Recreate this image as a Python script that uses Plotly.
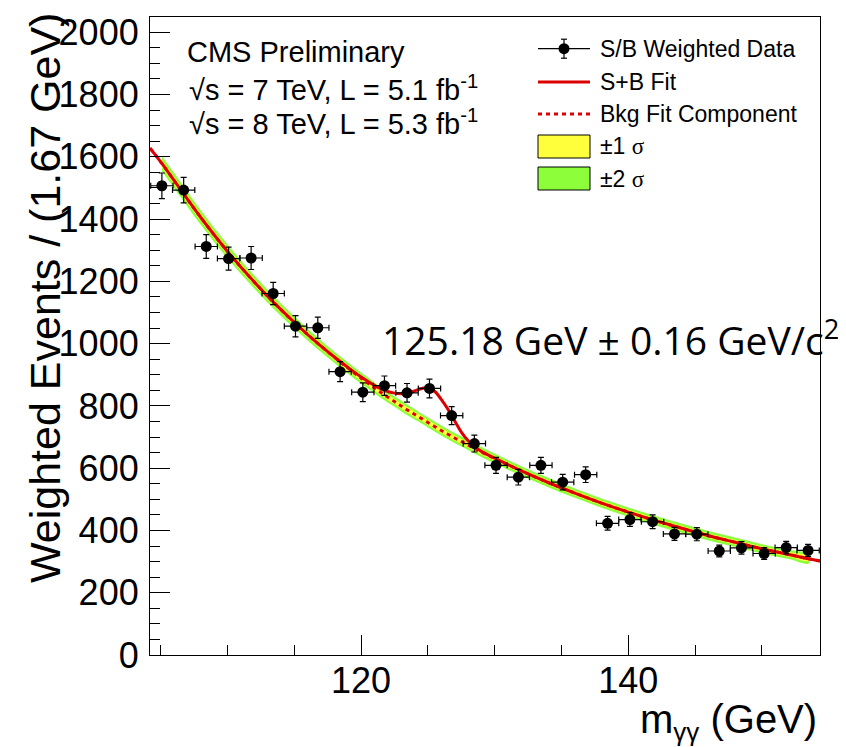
import plotly.graph_objects as go

# ---------------- data ----------------
mass = [105.09, 106.72, 108.41, 110.08, 111.77, 113.42, 115.09, 116.76, 118.43, 120.13,
        121.75, 123.44, 125.12, 126.78, 128.48, 130.10, 131.77, 133.46, 135.09, 136.81,
        138.45, 140.12, 141.82, 143.46, 145.13, 146.81, 148.47, 150.17, 151.82, 153.46]
events = [1507, 1493, 1312, 1273, 1275, 1161, 1056, 1051, 910, 844,
          865, 842, 856, 769, 679, 609, 571, 609, 555, 579,
          423, 435, 428, 389, 388, 334, 344, 326, 345, 336]
events_err = [41, 41, 38, 37, 37, 36, 34, 34, 32, 30,
              31, 30, 30, 29, 27, 26, 25, 26, 25, 25,
              22, 22, 22, 21, 21, 19, 20, 19, 20, 19]
half_bin = 0.835

fit_x = [104.2, 105.1, 106, 108, 110, 112, 114, 116, 118, 119, 120, 121, 121.75, 122.5,
         123, 123.5, 124, 124.5, 125, 125.5, 126, 126.5, 127, 127.5, 128, 128.5, 129, 130,
         132, 134, 136, 138, 140, 142, 144, 146, 148, 150, 152, 153.5, 154.35]
fit_bkg = [1628, 1578, 1524, 1405, 1296, 1198, 1109, 1029, 956, 922, 889, 858, 835, 814,
           800, 786, 773, 760, 747, 734, 721, 709, 697, 686, 674, 663, 652, 631,
           591, 554, 520, 488, 459, 432, 407, 383, 362, 341, 323, 309, 302]
fit_sb = [1628, 1578, 1524, 1405, 1296, 1198, 1109, 1029, 957, 924, 893, 866, 850, 841,
          839, 841, 848, 855, 859, 847, 821, 789, 752, 716, 689, 669, 654, 632,
          591, 554, 520, 488, 459, 432, 407, 383, 362, 341, 323, 309, 302]
band_sigma = [12, 12, 12, 11.5, 11, 10.5, 10, 9.5, 9, 9, 9, 8.5, 8.5, 8.5,
              8.5, 8.5, 8.5, 8, 8, 8, 8, 8, 8, 8, 8, 8, 8, 8,
              7.5, 7.5, 7.5, 7.5, 7.5, 7.5, 7.5, 7.5, 7.5, 7.5, 7.5, 7.5, 7.5]

legend_labels = ["S/B Weighted Data", "S+B Fit", "Bkg Fit Component", "±1 ", "±2 "]

# ---------------- style ----------------
RED = "#DD0000"
GREEN = "#8CFF3A"
YELLOW = "#FFFF3C"
FONT = "Liberation Sans"

W, H = 846, 747
L, R, T, B = 142, 34, 9, 100
PW, PH = W - L - R, H - T - B


def px(x):
    return (x - L) / PW


def py(y):
    return (H - B - y) / PH


# band (only between first and last bin centres)
bx = fit_x[1:-1]
bb = fit_bkg[1:-1]
bs = band_sigma[1:-1]
up2 = [b + 2 * s for b, s in zip(bb, bs)]
lo2 = [b - 2 * s for b, s in zip(bb, bs)]
up1 = [b + s for b, s in zip(bb, bs)]
lo1 = [b - s for b, s in zip(bb, bs)]

fig = go.Figure()
fig.add_trace(go.Scatter(x=bx + bx[::-1], y=up2 + lo2[::-1], fill="toself", fillcolor=GREEN,
                         mode="lines", line=dict(width=0, shape="spline"), name="±2 σ",
                         showlegend=False, hoverinfo="skip"))
fig.add_trace(go.Scatter(x=bx + bx[::-1], y=up1 + lo1[::-1], fill="toself", fillcolor=YELLOW,
                         mode="lines", line=dict(width=0, shape="spline"), name="±1 σ",
                         showlegend=False, hoverinfo="skip"))
fig.add_trace(go.Scatter(x=fit_x, y=fit_bkg, mode="lines", name="Bkg Fit Component",
                         line=dict(color=RED, width=3, dash="4px,4px", shape="spline"),
                         showlegend=False))
fig.add_trace(go.Scatter(x=fit_x, y=fit_sb, mode="lines", name="S+B Fit",
                         line=dict(color=RED, width=3, shape="spline"), showlegend=False))
fig.add_trace(go.Scatter(x=mass, y=events, mode="markers", name="S/B Weighted Data",
                         marker=dict(color="black", size=11),
                         error_y=dict(type="data", array=events_err, color="black",
                                      thickness=1.2, width=3),
                         error_x=dict(type="constant", value=half_bin, color="black",
                                      thickness=1.2, width=3),
                         showlegend=False))

# ---------------- manual ROOT-style legend ----------------
shapes = []
lx0, lx1, lxc = 530, 582, 556
rows = [40.7, 74, 106, 138.5, 170.5]
shapes.append(dict(type="line", xref="paper", yref="paper", x0=px(lx0), x1=px(lx1),
                   y0=py(rows[0]), y1=py(rows[0]), line=dict(color="black", width=1.2)))
shapes.append(dict(type="line", xref="paper", yref="paper", x0=px(lxc), x1=px(lxc),
                   y0=py(rows[0] - 9.5), y1=py(rows[0] + 9.5), line=dict(color="black", width=1.2)))
for dy in (-9.5, 9.5):
    shapes.append(dict(type="line", xref="paper", yref="paper", x0=px(lxc - 3), x1=px(lxc + 3),
                       y0=py(rows[0] + dy), y1=py(rows[0] + dy), line=dict(color="black", width=1.2)))
shapes.append(dict(type="circle", xref="paper", yref="paper", x0=px(lxc - 5.5), x1=px(lxc + 5.5),
                   y0=py(rows[0] + 5.5), y1=py(rows[0] - 5.5), fillcolor="black",
                   line=dict(color="black", width=0)))
shapes.append(dict(type="line", xref="paper", yref="paper", x0=px(lx0), x1=px(lx1),
                   y0=py(rows[1]), y1=py(rows[1]), line=dict(color=RED, width=3)))
shapes.append(dict(type="line", xref="paper", yref="paper", x0=px(lx0), x1=px(lx1),
                   y0=py(rows[2]), y1=py(rows[2]), line=dict(color=RED, width=3, dash="4px,4px")))
for yc, col in ((rows[3], YELLOW), (rows[4], GREEN)):
    shapes.append(dict(type="rect", xref="paper", yref="paper", x0=px(lx0), x1=px(lx1),
                       y0=py(yc + 11.5), y1=py(yc - 11.5), fillcolor=col,
                       line=dict(color="black", width=1)))

annotations = []
sig = '<span style="font-family:Liberation Serif">σ</span>'
texts = [legend_labels[0], legend_labels[1], legend_labels[2],
         legend_labels[3] + sig, legend_labels[4] + sig]
for yc, t in zip(rows, texts):
    annotations.append(dict(x=px(590), y=py(yc), xref="paper", yref="paper", text=t,
                            showarrow=False, xanchor="left", yanchor="middle",
                            font=dict(family=FONT, size=23, color="black")))

# CMS texts
for xl, yc, t in ((177, 44, "CMS Preliminary"),
                  (179, 80, "√s = 7 TeV, L = 5.1 fb<sup>-1</sup>"),
                  (179, 114, "√s = 8 TeV, L = 5.3 fb<sup>-1</sup>")):
    annotations.append(dict(x=px(xl), y=py(yc),
                            xref="paper", yref="paper", text=t, showarrow=False,
                            xanchor="left", yanchor="middle",
                            font=dict(family=FONT, size=29, color="black")))

annotations.append(dict(x=px(372), y=py(330), xref="paper", yref="paper",
                        text="125.18 GeV ± 0.16 GeV/c<sup>2</sup>", showarrow=False,
                        xanchor="left", yanchor="middle",
                        font=dict(family="Open Sans", size=39, color="black")))

# axis titles
annotations.append(dict(x=px(37), y=py(290), xref="paper", yref="paper",
                        text="Weighted Events / (1.67 GeV)", textangle=-90, showarrow=False,
                        xanchor="center", yanchor="middle",
                        font=dict(family=FONT, size=43, color="black")))
annotations.append(dict(x=px(811), y=py(714), xref="paper", yref="paper",
                        text='m<sub><span style="font-size:26px">γγ</span></sub> (GeV)',
                        showarrow=False, xanchor="right", yanchor="middle",
                        font=dict(family=FONT, size=40, color="black")))

axis_common = dict(ticks="inside", ticklen=20, tickwidth=1.2, tickcolor="black",
                   showline=True, linecolor="black", linewidth=1.2, mirror=True,
                   showgrid=False, zeroline=False, automargin=False,
                   tickfont=dict(family=FONT, size=36, color="black"))

fig.update_layout(
    width=W, height=H,
    margin=dict(l=L, r=R, t=T, b=B),
    paper_bgcolor="white", plot_bgcolor="white",
    showlegend=False,
    xaxis=dict(range=[104.2, 154.35], tick0=0, dtick=20, ticklabelstandoff=-6,
               minor=dict(tick0=0, dtick=5, ticks="inside", ticklen=10, tickwidth=1.2,
                          tickcolor="black", showgrid=False),
               **axis_common),
    yaxis=dict(range=[0, 2049], tick0=0, dtick=200, ticklabelstandoff=3,
               minor=dict(tick0=0, dtick=50, ticks="inside", ticklen=10, tickwidth=1.2,
                          tickcolor="black", showgrid=False),
               **axis_common),
    shapes=shapes,
    annotations=annotations,
    font=dict(family=FONT, color="black"),
)

fig.write_html("out.html")
